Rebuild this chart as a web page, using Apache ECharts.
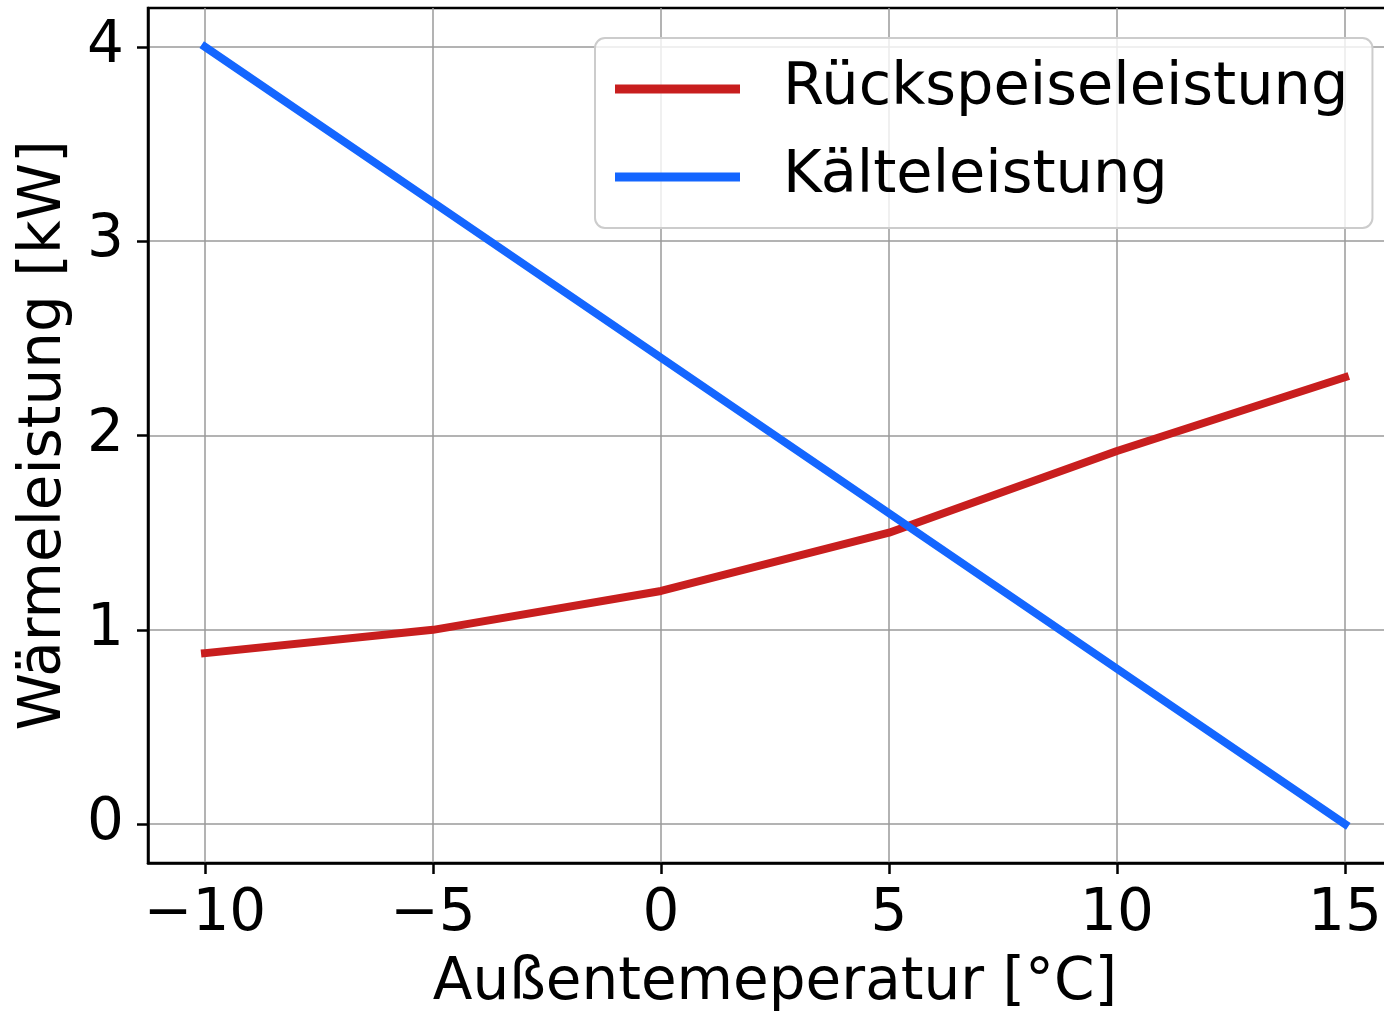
<!DOCTYPE html>
<html>
<head>
<meta charset="utf-8">
<script src="https://cdn.jsdelivr.net/npm/echarts@6/dist/echarts.min.js"></script>
<style>
html,body{margin:0;padding:0;background:#fff;overflow:hidden;}
#chart{width:1384px;height:1014px;}
</style>
</head>
<body>
<div id="chart"></div>
<script>
// Data
const temperatures = [-10, -5, 0, 5, 10, 15];
const rueckspeiseleistung = [0.88, 1.0, 1.2, 1.5, 1.92, 2.3];
const kaelteleistung = [4.0, 3.2, 2.4, 1.6, 0.8, 0.0];
const xTicks = [-10, -5, 0, 5, 10, 15];
const yTicks = [0, 1, 2, 3, 4];
const seriesNames = ['Rückspeiseleistung', 'Kälteleistung'];
const xName = 'Außentemeperatur [°C]';
const yName = 'Wärmeleistung [kW]';

const FONT = 'DejaVu Sans';
const RED = '#c81e1e';
const BLUE = '#1466ff';
const fmt = v => String(v).replace('-', '\u2212');

const chart = echarts.init(document.getElementById('chart'), null, {renderer: 'canvas'});
chart.setOption({
  animation: false,
  backgroundColor: '#fff',
  grid: {
    left: 148, top: 8, width: 1254, height: 855,
    outerBoundsMode: 'none', containLabel: false,
    show: true, borderColor: '#000', borderWidth: 2.5, backgroundColor: 'transparent'
  },
  legend: {
    orient: 'vertical',
    left: 595, top: 38,
    padding: [21, 24, 21, 20],
    itemGap: 28,
    itemWidth: 125, itemHeight: 9,
    icon: 'rect',
    backgroundColor: 'rgba(255,255,255,0.8)',
    borderColor: '#cccccc', borderWidth: 2, borderRadius: 10,
    textStyle: {fontFamily: FONT, fontSize: 59, color: '#000', lineHeight: 60, padding: [0, 0, 0, 38]},
    data: seriesNames
  },
  xAxis: {
    type: 'value',
    min: -11.25, max: 16.25,
    name: xName, nameLocation: 'middle', nameGap: 92,
    nameTextStyle: {fontFamily: FONT, fontSize: 58, color: '#000'},
    axisLine: {show: true, onZero: false, lineStyle: {color: '#000', width: 2.5}},
    axisTick: {show: true, inside: false, length: 11, lineStyle: {color: '#000', width: 2.5}, customValues: xTicks},
    axisLabel: {fontFamily: FONT, fontSize: 58, color: '#000', margin: 23, customValues: xTicks, formatter: fmt},
    splitLine: {show: true, lineStyle: {color: '#9a9a9a', width: 1.5}}
  },
  yAxis: {
    type: 'value',
    min: -0.2, max: 4.2,
    name: yName, nameLocation: 'middle', nameGap: 74, nameRotate: 90,
    nameTextStyle: {fontFamily: FONT, fontSize: 58, color: '#000'},
    axisLine: {show: true, onZero: false, lineStyle: {color: '#000', width: 2.5}},
    axisTick: {show: true, inside: false, length: 11, lineStyle: {color: '#000', width: 2.5}, customValues: yTicks},
    axisLabel: {fontFamily: FONT, fontSize: 58, color: '#000', margin: 24, customValues: yTicks, formatter: fmt},
    splitLine: {show: true, lineStyle: {color: '#9a9a9a', width: 1.5}}
  },
  series: [
    {
      name: seriesNames[0], type: 'line', showSymbol: false, symbol: 'none',
      data: temperatures.map((t, i) => [t, rueckspeiseleistung[i]]),
      lineStyle: {color: RED, width: 8, cap: 'square'},
      itemStyle: {color: RED}
    },
    {
      name: seriesNames[1], type: 'line', showSymbol: false, symbol: 'none',
      data: temperatures.map((t, i) => [t, kaelteleistung[i]]),
      lineStyle: {color: BLUE, width: 8, cap: 'square'},
      itemStyle: {color: BLUE}
    }
  ]
});
</script>
</body>
</html>
